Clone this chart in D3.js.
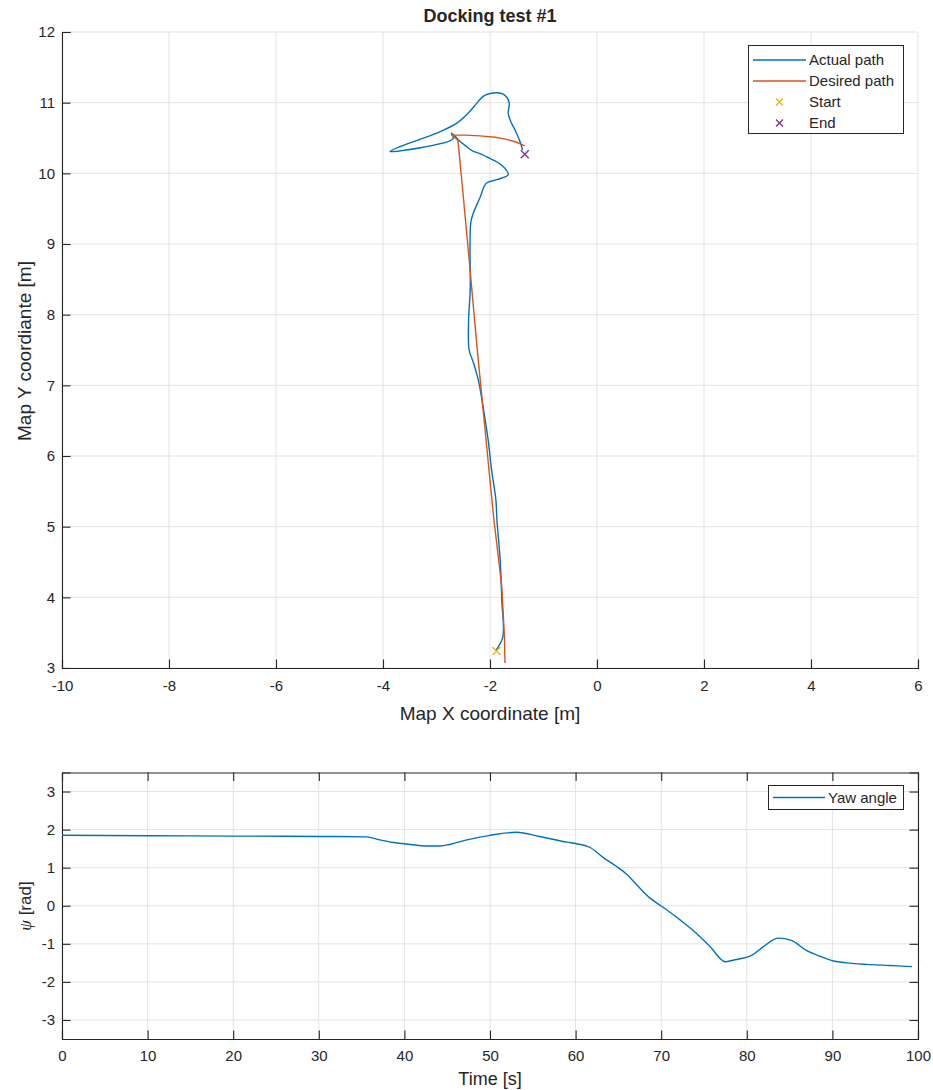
<!DOCTYPE html>
<html>
<head>
<meta charset="utf-8">
<script src="https://cdn.jsdelivr.net/npm/d3@7"></script>
<style>
  html, body { margin: 0; padding: 0; background: #fff; }
  svg { display: block; }
  text { font-family: "Liberation Sans", Arial, Helvetica, sans-serif; fill: #262626; }
</style>
</head>
<body>
<script>
// ---- Docking trajectory (map frame, metres) ----
const actualX = [-1.89, -1.76, -1.78, -1.81, -1.87, -1.89, -1.97, -2.03, -2.09, -2.16, -2.22, -2.31, -2.39, -2.40,
  -2.37, -2.36, -2.31, -2.19, -2.07, -1.87, -1.66, -1.72, -1.87, -2.00, -2.19, -2.31, -2.44, -2.56, -2.62,
  -2.72, -2.69, -3.87, -3.68, -3.31, -2.93, -2.62, -2.41, -2.25, -2.13, -2.00, -1.78, -1.69, -1.64, -1.66,
  -1.61, -1.53, -1.45, -1.41, -1.39];
const actualY = [3.25, 3.44, 3.96, 4.53, 5.09, 5.38, 5.80, 6.20, 6.51, 6.84, 7.08, 7.32, 7.50, 7.92,
  8.35, 9.30, 9.44, 9.65, 9.86, 9.91, 9.98, 10.07, 10.16, 10.21, 10.28, 10.31, 10.38, 10.45, 10.50,
  10.57, 10.49, 10.31, 10.38, 10.48, 10.59, 10.71, 10.85, 10.99, 11.09, 11.13, 11.13, 11.08, 10.99, 10.85,
  10.73, 10.61, 10.47, 10.38, 10.33];

const desiredX = [-1.72, -1.73, -1.78, -1.94, -2.11, -2.25, -2.38, -2.51, -2.60, -2.71, -2.45, -2.19, -1.90, -1.69, -1.50, -1.35];
const desiredY = [3.07, 3.44, 4.15, 5.19, 6.51, 7.60, 8.70, 9.76, 10.47, 10.54, 10.54, 10.53, 10.51, 10.48, 10.44, 10.39];

const startPt = [-1.88, 3.24];
const endPt = [-1.35, 10.27];

const mapXTicks = [-10, -8, -6, -4, -2, 0, 2, 4, 6];
const mapYTicks = [3, 4, 5, 6, 7, 8, 9, 10, 11, 12];
const pathLegend = ["Actual path", "Desired path", "Start", "End"];

// ---- Yaw angle over time ----
const timeS = [0, 10, 20, 30, 35.6, 37.1, 38.7, 40.7, 42.6, 44.2, 45.3, 47.3, 50.0, 53.1, 55.8, 59.0, 60.1,
  61.7, 63.2, 64.8, 66.0, 67.3, 68.7, 70.1, 72.2, 74.1, 75.7, 77.5, 78.4, 80.6, 81.9, 83.7, 85.2, 87.0,
  88.6, 90.1, 91.7, 94.0, 96.7, 99.3];
const yawRad = [1.85, 1.84, 1.83, 1.82, 1.81, 1.73, 1.66, 1.61, 1.57, 1.57, 1.61, 1.73, 1.85, 1.93, 1.82, 1.67, 1.63,
  1.53, 1.27, 1.03, 0.82, 0.51, 0.20, -0.02, -0.37, -0.72, -1.07, -1.47, -1.43, -1.30, -1.08, -0.85, -0.91, -1.18,
  -1.33, -1.45, -1.50, -1.54, -1.57, -1.60];
const timeTicks = [0, 10, 20, 30, 40, 50, 60, 70, 80, 90, 100];
const yawTicks = [-3, -2, -1, 0, 1, 2, 3];
const yawLegend = ["Yaw angle"];

const C_BLUE = "#0072BD", C_ORANGE = "#D95319", C_YELLOW = "#EDB120", C_PURPLE = "#7E2F8E";
const AXIS = "#262626", GRID = "#e3e3e3";
const TICK = 8.5;
const fmt = d => String(d); // plain hyphen-minus labels

const W = 933, H = 1090;
const svg = d3.select("body").append("svg").attr("width", W).attr("height", H);

function styleAxis(a) {
  a.select(".domain").attr("stroke", AXIS).attr("stroke-width", 1.1);
  a.selectAll(".tick line").attr("stroke", AXIS).attr("stroke-width", 1.1);
  a.selectAll(".tick text").attr("font-size", 15).attr("fill", AXIS)
    .attr("font-family", "'Liberation Sans', Arial, sans-serif");
}

// ================= Top panel: map trajectory =================
const x1 = d3.scaleLinear().domain([-10, 6]).range([62, 918]);
const y1 = d3.scaleLinear().domain([3, 12]).range([668, 32]);

const g1 = svg.append("g");
// grid
g1.append("g").selectAll("line").data(mapXTicks).join("line")
  .attr("x1", d => x1(d)).attr("x2", d => x1(d)).attr("y1", y1(3)).attr("y2", y1(12))
  .attr("stroke", GRID).attr("stroke-width", 1);
g1.append("g").selectAll("line").data(mapYTicks).join("line")
  .attr("x1", x1(-10)).attr("x2", x1(6)).attr("y1", d => y1(d)).attr("y2", d => y1(d))
  .attr("stroke", GRID).attr("stroke-width", 1);

// axes (left + bottom, ticks pointing inward)
const ax1 = g1.append("g").attr("transform", `translate(0,${y1(3)})`)
  .call(d3.axisBottom(x1).tickValues(mapXTicks).tickSize(-TICK).tickFormat(fmt));
const ay1 = g1.append("g").attr("transform", `translate(${x1(-10)},0)`)
  .call(d3.axisLeft(y1).tickValues(mapYTicks).tickSize(-TICK).tickPadding(7).tickFormat(fmt));
[ax1, ay1].forEach(styleAxis);
ax1.selectAll(".tick text").attr("dy", "0.71em").attr("y", 12);

// data
const desired = desiredX.map((v, i) => [v, desiredY[i]]);
const actual = actualX.map((v, i) => [v, actualY[i]]);
g1.append("path").datum(actual)
  .attr("d", d3.line().x(d => x1(d[0])).y(d => y1(d[1])).curve(d3.curveCatmullRom.alpha(0.5)))
  .attr("fill", "none").attr("stroke", C_BLUE).attr("stroke-width", 1.4).attr("stroke-linejoin", "round");
g1.append("path").datum(desired)
  .attr("d", d3.line().x(d => x1(d[0])).y(d => y1(d[1])))
  .attr("fill", "none").attr("stroke", C_ORANGE).attr("stroke-width", 1.4).attr("stroke-linejoin", "round");

function cross(g, cx, cy, color, r = 4) {
  g.append("path").attr("d", `M${cx - r},${cy - r}L${cx + r},${cy + r}M${cx - r},${cy + r}L${cx + r},${cy - r}`)
    .attr("stroke", color).attr("stroke-width", 1.3).attr("fill", "none");
}
cross(g1, x1(startPt[0]), y1(startPt[1]), C_YELLOW);
cross(g1, x1(endPt[0]), y1(endPt[1]), C_PURPLE);

// title & labels
svg.append("text").attr("x", 490).attr("y", 22).attr("text-anchor", "middle")
  .attr("font-size", 18).attr("font-weight", "bold").attr("fill", "#000").text("Docking test #1");
svg.append("text").attr("x", 490).attr("y", 720).attr("text-anchor", "middle")
  .attr("font-size", 19).text("Map X coordinate [m]");
svg.append("text").attr("transform", "translate(31,351) rotate(-90)").attr("text-anchor", "middle")
  .attr("font-size", 19).text("Map Y coordiante [m]");

// legend
const lg1 = g1.append("g");
lg1.append("rect").attr("x", 748.5).attr("y", 45.5).attr("width", 155).attr("height", 88)
  .attr("fill", "#fff").attr("stroke", AXIS).attr("stroke-width", 1);
const rowY = [60, 81, 102, 123];
pathLegend.forEach((name, i) => {
  const yy = rowY[i];
  if (i < 2) {
    lg1.append("line").attr("x1", 753).attr("x2", 806).attr("y1", yy).attr("y2", yy)
      .attr("stroke", i === 0 ? C_BLUE : C_ORANGE).attr("stroke-width", 1.4);
  } else {
    cross(lg1, 779.5, yy, i === 2 ? C_YELLOW : C_PURPLE, 3.5);
  }
  lg1.append("text").attr("x", 809).attr("y", yy).attr("dy", "0.36em")
    .attr("font-size", 15).attr("fill", "#000").text(name);
});

// ================= Bottom panel: yaw angle =================
const x2 = d3.scaleLinear().domain([0, 100]).range([62, 918]);
const y2 = d3.scaleLinear().domain([-3.5, 3.5]).range([1039, 772.5]);
const g2 = svg.append("g");

g2.append("g").selectAll("line").data(timeTicks).join("line")
  .attr("x1", d => x2(d)).attr("x2", d => x2(d)).attr("y1", y2(-3.5)).attr("y2", y2(3.5))
  .attr("stroke", GRID).attr("stroke-width", 1);
g2.append("g").selectAll("line").data(yawTicks).join("line")
  .attr("x1", x2(0)).attr("x2", x2(100)).attr("y1", d => y2(d)).attr("y2", d => y2(d))
  .attr("stroke", GRID).attr("stroke-width", 1);

const ax2 = g2.append("g").attr("transform", `translate(0,${y2(-3.5)})`)
  .call(d3.axisBottom(x2).tickValues(timeTicks).tickSize(-TICK).tickFormat(fmt));
const ax2t = g2.append("g").attr("transform", `translate(0,${y2(3.5)})`)
  .call(d3.axisTop(x2).tickValues(timeTicks).tickSize(-TICK).tickFormat(""));
const ay2 = g2.append("g").attr("transform", `translate(${x2(0)},0)`)
  .call(d3.axisLeft(y2).tickValues(yawTicks).tickSize(-TICK).tickPadding(7).tickFormat(fmt));
const ay2r = g2.append("g").attr("transform", `translate(${x2(100)},0)`)
  .call(d3.axisRight(y2).tickValues(yawTicks).tickSize(-TICK).tickFormat(""));
[ax2, ax2t, ay2, ay2r].forEach(styleAxis);
ax2.selectAll(".tick text").attr("dy", "0.71em").attr("y", 11);

const yaw = timeS.map((t, i) => [t, yawRad[i]]);
g2.append("path").datum(yaw)
  .attr("d", d3.line().x(d => x2(d[0])).y(d => y2(d[1])).curve(d3.curveMonotoneX))
  .attr("fill", "none").attr("stroke", C_BLUE).attr("stroke-width", 1.4).attr("stroke-linejoin", "round");

svg.append("text").attr("x", 490).attr("y", 1085).attr("text-anchor", "middle")
  .attr("font-size", 18).text("Time [s]");
const yl = svg.append("text").attr("transform", "translate(31,906) rotate(-90)").attr("text-anchor", "middle")
  .attr("font-size", 17);
yl.append("tspan").attr("font-family", "'Liberation Serif', 'Times New Roman', serif").attr("font-style", "italic").text("ψ");
yl.append("tspan").attr("font-family", "'Liberation Sans', Arial, sans-serif").text(" [rad]");

const lg2 = g2.append("g");
lg2.append("rect").attr("x", 768.5).attr("y", 785.5).attr("width", 135).attr("height", 24)
  .attr("fill", "#fff").attr("stroke", AXIS).attr("stroke-width", 1);
lg2.append("line").attr("x1", 773).attr("x2", 825).attr("y1", 797.5).attr("y2", 797.5)
  .attr("stroke", C_BLUE).attr("stroke-width", 1.4);
lg2.append("text").attr("x", 828).attr("y", 797.5).attr("dy", "0.36em")
  .attr("font-size", 15).attr("fill", "#000").text(yawLegend[0]);
</script>
</body>
</html>
